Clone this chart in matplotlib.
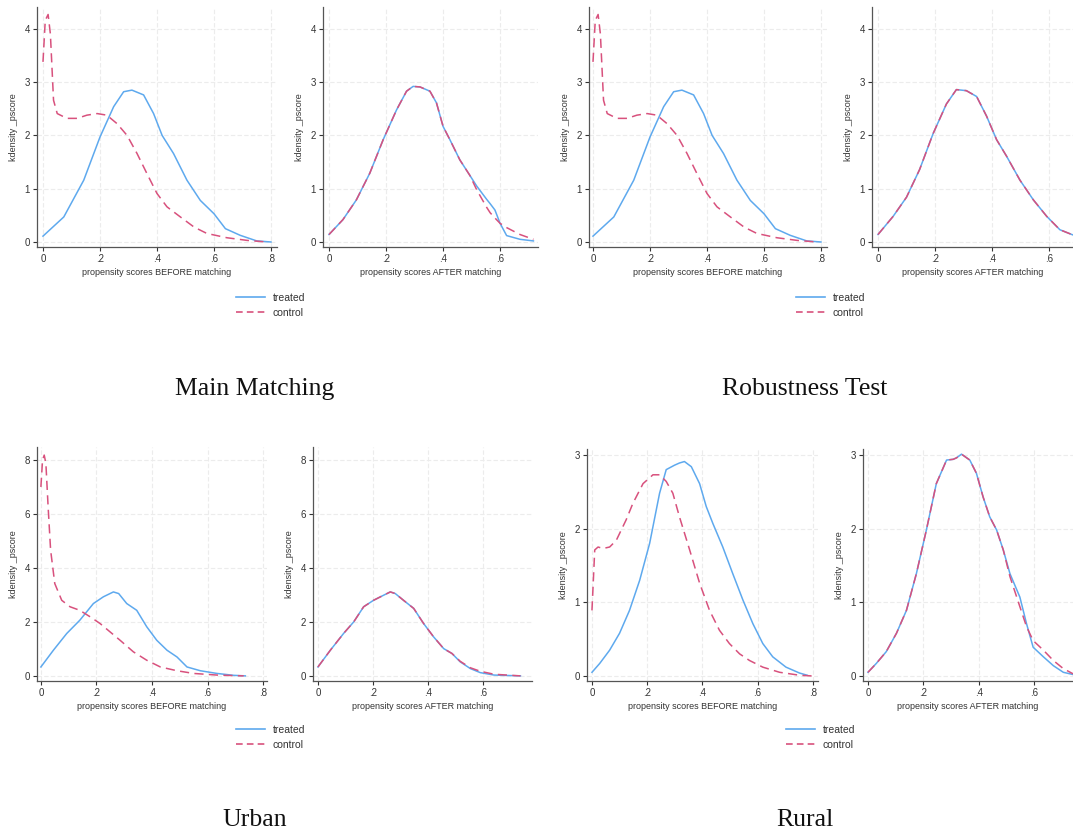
import matplotlib.pyplot as plt
from matplotlib.lines import Line2D

BLUE = '#5ea9ee'
RED = '#d8517d'

# Main Matching, before matching
main_b_tx = [0, 0.073, 0.143, 0.2, 0.248, 0.283, 0.312, 0.353, 0.388, 0.418, 0.458,
             0.505, 0.552, 0.6, 0.64, 0.692, 0.75, 0.8]
main_b_ty = [0.11, 0.47, 1.16, 1.97, 2.54, 2.82, 2.85, 2.76, 2.41, 2.0, 1.66,
             1.16, 0.78, 0.53, 0.25, 0.125, 0.02, 0.0]
main_b_cx = [0, 0.008, 0.018, 0.026, 0.037, 0.05, 0.084, 0.12, 0.154, 0.19, 0.224,
             0.26, 0.295, 0.33, 0.365, 0.4, 0.435, 0.482, 0.53, 0.575, 0.645, 0.716, 0.786]
main_b_cy = [3.38, 4.16, 4.27, 3.9, 2.66, 2.41, 2.32, 2.32, 2.38, 2.41, 2.38,
             2.22, 2.0, 1.66, 1.28, 0.91, 0.66, 0.47, 0.28, 0.16, 0.08, 0.03, 0.0]

# Main Matching, after matching
main_a_tx = [0, 0.049, 0.096, 0.143, 0.19, 0.237, 0.272, 0.295, 0.319, 0.354, 0.377,
             0.4, 0.424, 0.459, 0.494, 0.518, 0.553, 0.565, 0.582, 0.6, 0.623, 0.67, 0.717]
main_a_ty = [0.14, 0.42, 0.79, 1.29, 1.92, 2.48, 2.83, 2.92, 2.91, 2.83, 2.61,
             2.17, 1.92, 1.54, 1.25, 1.05, 0.8, 0.72, 0.6, 0.35, 0.12, 0.05, 0.02]
main_a_cx = [0, 0.049, 0.096, 0.143, 0.19, 0.237, 0.272, 0.295, 0.319, 0.354, 0.377,
             0.4, 0.424, 0.459, 0.494, 0.518, 0.553, 0.565, 0.582, 0.6, 0.623, 0.67, 0.717]
main_a_cy = [0.14, 0.42, 0.79, 1.29, 1.92, 2.48, 2.83, 2.92, 2.91, 2.83, 2.61,
             2.17, 1.92, 1.54, 1.25, 0.98, 0.65, 0.55, 0.45, 0.35, 0.27, 0.14, 0.05]

# Robustness Test, before matching
rob_b_tx = main_b_tx
rob_b_ty = main_b_ty
rob_b_cx = main_b_cx
rob_b_cy = main_b_cy

# Robustness Test, after matching
rob_a_x = [0, 0.053, 0.1, 0.146, 0.193, 0.24, 0.275, 0.31, 0.346, 0.381, 0.416,
           0.451, 0.498, 0.545, 0.592, 0.638, 0.68, 0.72]
rob_a_ty = [0.14, 0.48, 0.84, 1.36, 2.03, 2.59, 2.86, 2.84, 2.73, 2.36, 1.92,
            1.61, 1.16, 0.79, 0.48, 0.23, 0.14, 0.06]
rob_a_cy = rob_a_ty

# Urban, before matching
urb_b_tx = [0, 0.045, 0.093, 0.14, 0.189, 0.225, 0.261, 0.28, 0.309, 0.345, 0.381,
            0.417, 0.454, 0.49, 0.526, 0.574, 0.634, 0.694, 0.736]
urb_b_ty = [0.33, 0.95, 1.57, 2.06, 2.68, 2.93, 3.11, 3.05, 2.68, 2.43, 1.82,
            1.32, 0.95, 0.7, 0.33, 0.19, 0.09, 0.02, 0.0]
urb_b_cx = [0, 0.006, 0.012, 0.018, 0.026, 0.035, 0.05, 0.075, 0.105, 0.14, 0.177,
            0.213, 0.249, 0.285, 0.333, 0.381, 0.43, 0.49, 0.55, 0.634, 0.73]
urb_b_cy = [7.0, 8.0, 8.18, 7.87, 6.27, 4.66, 3.42, 2.8, 2.56, 2.43, 2.19,
            1.94, 1.63, 1.32, 0.89, 0.58, 0.33, 0.19, 0.09, 0.03, 0.0]

# Urban, after matching
urb_a_x = [0, 0.045, 0.093, 0.13, 0.166, 0.202, 0.239, 0.263, 0.281, 0.311, 0.348,
           0.384, 0.42, 0.457, 0.487, 0.517, 0.554, 0.59, 0.64, 0.736]
urb_a_ty = [0.33, 0.95, 1.57, 2.0, 2.56, 2.8, 2.99, 3.11, 3.05, 2.8, 2.5,
            1.94, 1.45, 1.01, 0.83, 0.52, 0.27, 0.12, 0.03, 0.0]
urb_a_cy = [0.33, 0.95, 1.57, 2.0, 2.56, 2.8, 2.99, 3.11, 3.05, 2.8, 2.5,
            1.94, 1.45, 1.01, 0.83, 0.54, 0.30, 0.17, 0.06, 0.0]

# Rural, before matching
rur_b_tx = [0, 0.028, 0.064, 0.1, 0.136, 0.173, 0.209, 0.245, 0.269, 0.299, 0.317,
            0.335, 0.36, 0.39, 0.414, 0.438, 0.474, 0.51, 0.547, 0.583, 0.619,
            0.655, 0.703, 0.752, 0.78]
rur_b_ty = [0.05, 0.17, 0.35, 0.58, 0.89, 1.3, 1.8, 2.48, 2.8, 2.86, 2.89,
            2.91, 2.84, 2.61, 2.3, 2.07, 1.75, 1.39, 1.03, 0.71, 0.44,
            0.26, 0.12, 0.04, 0.01]
rur_b_cx = [0, 0.01, 0.022, 0.04, 0.064, 0.088, 0.124, 0.148, 0.185, 0.221, 0.245,
            0.269, 0.293, 0.317, 0.354, 0.39, 0.426, 0.462, 0.498, 0.535, 0.571,
            0.619, 0.68, 0.752, 0.8]
rur_b_cy = [0.89, 1.71, 1.75, 1.73, 1.75, 1.84, 2.12, 2.34, 2.61, 2.73, 2.73,
            2.64, 2.48, 2.16, 1.71, 1.26, 0.89, 0.62, 0.44, 0.3, 0.21,
            0.12, 0.05, 0.01, 0.0]

# Rural, after matching
rur_a_x = [0, 0.03, 0.066, 0.103, 0.139, 0.175, 0.211, 0.247, 0.284, 0.308, 0.32,
           0.338, 0.368, 0.392, 0.416, 0.44, 0.465, 0.489, 0.513, 0.549, 0.573,
           0.597, 0.634, 0.67, 0.706, 0.741]
rur_a_ty = [0.05, 0.17, 0.33, 0.58, 0.89, 1.39, 1.98, 2.61, 2.93, 2.94, 2.96,
            3.01, 2.93, 2.75, 2.43, 2.16, 1.98, 1.71, 1.39, 1.07, 0.71,
            0.39, 0.26, 0.14, 0.05, 0.02]
rur_a_cy = [0.05, 0.17, 0.33, 0.58, 0.89, 1.39, 1.98, 2.61, 2.93, 2.94, 2.96,
            3.01, 2.93, 2.75, 2.43, 2.16, 1.98, 1.71, 1.35, 0.94, 0.67,
            0.48, 0.35, 0.21, 0.10, 0.03]

xticks = [0, 0.2, 0.4, 0.6, 0.8]
xtick_labels = ['0', '.2', '.4', '.6', '.8']
group_titles = ['Main Matching', 'Robustness Test', 'Urban', 'Rural']

W, H = 1073, 839
plt.rcParams['font.family'] = ['Liberation Sans', 'DejaVu Sans']
fig = plt.figure(figsize=(W / 100, H / 100), dpi=100)


def panel(px, xlim, ylim, yticks, tx, ty, cx, cy, xlabel):
    left, right, top, bottom = px
    ax = fig.add_axes([left / W, 1 - bottom / H, (right - left) / W, (bottom - top) / H])
    ax.plot(tx, ty, color=BLUE, lw=1.1, zorder=3)
    ax.plot(cx, cy, color=RED, lw=1.1, dashes=(6, 3.5), zorder=4)
    ax.set_xlim(xlim)
    ax.set_ylim(ylim)
    ax.set_xticks([t for t in xticks if t <= xlim[1]])
    ax.set_xticklabels([l for t, l in zip(xticks, xtick_labels) if t <= xlim[1]])
    ax.set_yticks(yticks)
    ax.set_yticklabels([str(v) for v in yticks])
    ax.grid(True, color='#ececec', lw=0.8, ls=(0, (4, 2)))
    ax.set_axisbelow(True)
    for s in ['top', 'right']:
        ax.spines[s].set_visible(False)
    for s in ['left', 'bottom']:
        ax.spines[s].set_color('#555555')
        ax.spines[s].set_linewidth(0.9)
    ax.tick_params(labelsize=7, colors='#333333', length=3, width=0.8, pad=2)
    ax.set_xlabel(xlabel, fontsize=6.5, color='#333333', labelpad=3)
    ax.set_ylabel('kdensity _pscore', fontsize=6.5, color='#333333', labelpad=5)
    return ax


BEF = 'propensity scores BEFORE matching'
AFT = 'propensity scores AFTER matching'
y4 = (-0.094, 4.41)
y8 = (-0.19, 8.48)
y3 = (-0.068, 3.08)

panel((37, 277, 7, 247), (-0.021, 0.821), y4, [0, 1, 2, 3, 4],
      main_b_tx, main_b_ty, main_b_cx, main_b_cy, BEF)
panel((323, 538, 7, 247), (-0.021, 0.733), y4, [0, 1, 2, 3, 4],
      main_a_tx, main_a_ty, main_a_cx, main_a_cy, AFT)
panel((589, 827, 7, 247), (-0.014, 0.821), y4, [0, 1, 2, 3, 4],
      rob_b_tx, rob_b_ty, rob_b_cx, rob_b_cy, BEF)
panel((872, 1073, 7, 247), (-0.021, 0.684), y4, [0, 1, 2, 3, 4],
      rob_a_x, rob_a_ty, rob_a_x, rob_a_cy, AFT)
panel((37, 267, 447, 681), (-0.014, 0.814), y8, [0, 2, 4, 6, 8],
      urb_b_tx, urb_b_ty, urb_b_cx, urb_b_cy, BEF)
panel((313, 532, 447, 681), (-0.018, 0.778), y8, [0, 2, 4, 6, 8],
      urb_a_x, urb_a_ty, urb_a_x, urb_a_cy, AFT)
panel((587, 818, 449, 681), (-0.018, 0.819), y3, [0, 1, 2, 3],
      rur_b_tx, rur_b_ty, rur_b_cx, rur_b_cy, BEF)
panel((863, 1073, 449, 681), (-0.018, 0.741), y3, [0, 1, 2, 3],
      rur_a_x, rur_a_ty, rur_a_x, rur_a_cy, AFT)

handles = [Line2D([], [], color=BLUE, lw=1.2),
           Line2D([], [], color=RED, lw=1.2, dashes=(4, 2.5))]
for lx, ly in [(236, 293), (796, 293), (236, 725), (786, 725)]:
    fig.legend(handles, ['treated', 'control'], loc='upper left',
               bbox_to_anchor=(lx / W, 1 - ly / H), frameon=False, fontsize=7.5,
               handlelength=2.8, handletextpad=0.7, labelspacing=0.45,
               borderaxespad=0, borderpad=0, labelcolor='#333333')

for title, tx, ty in zip(group_titles, [255, 805, 255, 805], [389, 389, 820, 820]):
    fig.text(tx / W, 1 - ty / H, title, ha='center', va='center',
             fontsize=18.5, family='Liberation Serif', color='#111111')

fig.savefig('out.png', dpi=100, facecolor='white')
